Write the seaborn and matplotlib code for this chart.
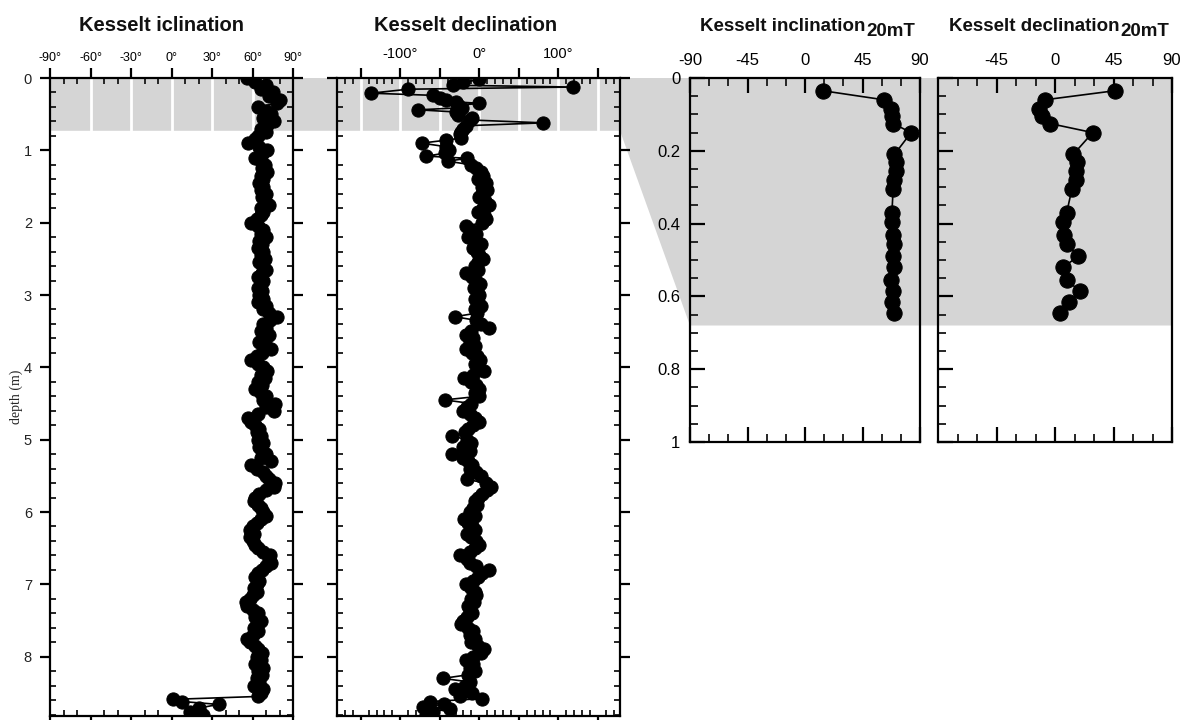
import numpy as np
import pandas as pd
import matplotlib
matplotlib.use("Agg")
import matplotlib.pyplot as plt
from matplotlib.patches import Polygon
from matplotlib.ticker import MultipleLocator, FixedLocator, FuncFormatter
import seaborn as sns

sns.set_theme(style="white")
plt.rcParams['font.family'] = ['Liberation Sans', 'DejaVu Sans']

# ---------------- data ----------------
# Full core, sampled every 5 cm from 0 to 8.55 m
inc_depth_grid = np.round(np.arange(0.0, 8.551, 0.05), 2)
inc_grid = [
    56, 62, 70, 66, 75, 72, 80, 78, 64, 70,
    74, 68, 76, 71, 66, 70, 64, 62, 57, 65,
    71, 67, 62, 66, 69, 67, 71, 66, 68, 65,
    68, 66, 70, 67, 69, 72, 66, 68, 66, 63,
    59, 64, 68, 66, 70, 65, 67, 64, 68, 66,
    69, 65, 68, 70, 67, 64, 68, 66, 64, 67,
    65, 68, 64, 70, 68, 72, 78, 73, 68, 70,
    66, 72, 68, 65, 70, 74, 67, 63, 59, 64,
    68, 71, 66, 69, 64, 67, 62, 66, 70, 68,
    77, 70, 76, 64, 57, 59, 62, 65, 63, 66,
    64, 68, 65, 67, 70, 66, 74, 59, 63, 68,
    70, 72, 77, 76, 70, 65, 62, 61, 64, 66,
    68, 70, 66, 63, 60, 58, 61, 58, 60, 62,
    64, 68, 73, 72, 74, 70, 67, 64, 62, 65,
    63, 61, 63, 60, 58, 55, 56, 60, 64, 62,
    66, 63, 61, 64, 60, 56, 58, 62, 64, 67,
    63, 66, 62, 68, 64, 67, 63, 65, 61, 68,
    66, 64,
]
inc_base_depth = [8.59, 8.62, 8.66, 8.71, 8.76, 8.80]
inc_base = [1, 8, 35, 20, 14, 23]

dec_top_depth = [0.02, 0.06, 0.10, 0.125, 0.155, 0.21, 0.24, 0.27, 0.30, 0.33,
                 0.35, 0.38, 0.41, 0.44, 0.47, 0.51, 0.55, 0.58, 0.62, 0.66,
                 0.70, 0.74, 0.78, 0.83, 0.86, 0.90, 0.95, 1.00, 1.04, 1.08,
                 1.11, 1.15, 1.20]
dec_top = [0, -20, -33, 119, -90, -137, -58, -50, -42, -30,
           0, -27, -22, -77, -29, -27, -9, -12, 81, -17,
           -20, -23, -25, -23, -42, -73, -42, -38, -44, -67,
           -15, -40, -10]
dec_depth_grid = np.round(np.arange(1.25, 8.551, 0.05), 2)
dec_grid = [
    -4, 2, 5, -2, 8, 3, 10, 4, 0, 7,
    12, 5, -1, 6, 9, 3, -17, -10, -4, -14,
    -6, 2, -8, -3, 0, 5, -2, -6, -1, -17,
    -9, -4, 1, -7, -3, 0, -5, -2, 2, -6,
    -3, -31, -4, 2, 12, -10, -17, -8, -12, -5,
    -17, -9, -3, 1, -6, -2, 6, -8, -19, -10,
    -4, 0, -6, 0, -44, -10, -15, -21, -12, -6,
    0, -8, -14, -18, -35, -15, -10, -20, -12, -35,
    -21, -14, -9, -12, -4, 2, -15, 8, 15, 10,
    4, -2, -6, -3, -8, -12, -6, -19, -14, -9,
    -5, -15, -10, -4, 0, -6, -12, -25, -16, -12,
    -4, 12, 4, -2, -8, -17, -10, -6, -4, -11,
    -7, -14, -12, -9, -16, -20, -23, -14, -8, -12,
    -5, -10, -2, 6, 2, -8, -17, -8, -12, -6,
    -14, -46, -12, -18, -31, -9, -25,
]
dec_base_depth = [8.58, 8.62, 8.66, 8.69, 8.72, 8.76, 8.81]
dec_base = [4, -62, -45, -71, -37, -58, -67]

# Top 0.65 m after 20 mT demagnetisation
top_depth = [0.035, 0.06, 0.085, 0.105, 0.125, 0.15, 0.21, 0.23, 0.255, 0.28, 0.305,
             0.37, 0.395, 0.43, 0.455, 0.49, 0.52, 0.555, 0.585, 0.615, 0.645]
inc_20mT = [14, 62, 67, 68, 69, 83, 70, 71, 71, 70, 69,
            68, 68, 69, 70, 69, 70, 67, 69, 68, 70]
dec_20mT = [46, -8, -12, -10, -4, 29, 14, 17, 16, 16, 13,
            9, 6, 7, 9, 18, 6, 9, 19, 11, 4]

band_core = 0.73   # shaded interval on the full-core logs
band_top = 0.68    # same interval on the expanded logs

inc_df = pd.DataFrame({"depth": list(inc_depth_grid) + inc_base_depth,
                       "value": inc_grid + inc_base})
dec_df = pd.DataFrame({"depth": dec_top_depth + list(dec_depth_grid) + dec_base_depth,
                       "value": dec_top + dec_grid + dec_base})
top_df = pd.DataFrame({"depth": top_depth, "inc": inc_20mT, "dec": dec_20mT})

# ---------------- layout ----------------
W, H = 1185, 720
fig = plt.figure(figsize=(W / 100, H / 100), dpi=100)


def box(l, r, t, b):
    return [l / W, 1 - b / H, (r - l) / W, (b - t) / H]


ax1 = fig.add_axes(box(50, 293, 78, 716))
ax2 = fig.add_axes(box(337, 620, 78, 716))
ax3 = fig.add_axes(box(690, 920, 78, 442))
ax4 = fig.add_axes(box(938, 1172, 78, 442))

GREY = "#d5d5d5"
LINE_KW = dict(sort=False, estimator=None, orient="y", color="black",
               linewidth=1.2, marker="o", markeredgecolor="black", zorder=3)

sns.lineplot(data=inc_df, x="value", y="depth", ax=ax1, markersize=9.5, **LINE_KW)
sns.lineplot(data=dec_df, x="value", y="depth", ax=ax2, markersize=9.5, **LINE_KW)
sns.lineplot(data=top_df, x="inc", y="depth", ax=ax3, markersize=11, **LINE_KW)
sns.lineplot(data=top_df, x="dec", y="depth", ax=ax4, markersize=11, **LINE_KW)

for ax in (ax1, ax2, ax3, ax4):
    ax.set_facecolor("none")
    ax.set_xlabel("")
    ax.set_ylabel("")
    for s in ax.spines.values():
        s.set_linewidth(1.6)
        s.set_color("black")

# full-core panels
ax1.set_xlim(-90, 90)
ax2.set_xlim(-180, 178)
for ax in (ax1, ax2):
    ax.set_ylim(8.82, 0)
    ax.yaxis.set_major_locator(MultipleLocator(1))
    ax.yaxis.set_minor_locator(MultipleLocator(0.2))
    ax.xaxis.set_minor_locator(MultipleLocator(10))
    ax.tick_params(axis="both", which="major", direction="out", length=7, width=1.6,
                   top=True, bottom=True, left=True, right=True,
                   labeltop=True, labelbottom=False, colors="black")
    ax.tick_params(axis="both", which="minor", direction="in", length=4, width=1.4,
                   top=True, bottom=True, left=True, right=True)

ax1.xaxis.set_major_locator(MultipleLocator(30))
ax1.xaxis.set_major_formatter(FuncFormatter(lambda v, p: f"{v:.0f}°"))
ax1.tick_params(axis="x", which="major", labelsize=9, pad=3)
for lab in ax1.get_xticklabels():
    lab.set_family(["Liberation Sans Narrow", "Liberation Sans", "DejaVu Sans"])
ax1.yaxis.set_major_formatter(FuncFormatter(lambda v, p: f"{v:.0f}"))
ax1.tick_params(axis="y", which="major", labelsize=10.5, labelcolor="#222222", pad=6)

ax2.xaxis.set_major_locator(MultipleLocator(50))
ax2.xaxis.set_major_formatter(
    FuncFormatter(lambda v, p: f"{v:.0f}°" if abs(v) % 100 == 0 and abs(v) <= 100 else ""))
ax2.tick_params(axis="x", which="major", labelsize=10.5, pad=5)
ax2.tick_params(axis="y", labelleft=False)

# white grid lines across the shaded interval
ax1.vlines([-60, -30, 0, 30, 60], 0, band_core, colors="white", linewidth=2, zorder=1)
ax2.vlines([-150, -100, -50, 0, 50, 100, 150], 0, band_core, colors="white",
           linewidth=2, zorder=1)

# expanded top panels
for ax in (ax3, ax4):
    ax.set_xlim(-90, 90)
    ax.set_ylim(1, 0)
    ax.xaxis.set_major_locator(FixedLocator([-90, -45, 0, 45, 90]))
    ax.xaxis.set_minor_locator(MultipleLocator(15))
    ax.yaxis.set_major_locator(MultipleLocator(0.2))
    ax.yaxis.set_minor_locator(MultipleLocator(0.05))
    ax.xaxis.set_major_formatter(FuncFormatter(lambda v, p: f"{v:.0f}"))
    ax.yaxis.set_major_formatter(FuncFormatter(lambda v, p: f"{v:g}"))
    ax.tick_params(axis="both", which="major", direction="in", length=11, width=1.6,
                   top=True, bottom=True, left=True, right=False,
                   labeltop=True, labelbottom=False, labelsize=12, pad=7,
                   colors="black")
    ax.tick_params(axis="both", which="minor", direction="in", length=6, width=1.4,
                   top=True, bottom=True, left=True, right=False)
ax4.xaxis.set_major_locator(FixedLocator([-45, 0, 45, 90]))
ax4.tick_params(axis="y", labelleft=False)
ax3.xaxis.set_major_locator(FixedLocator([-90, -45, 0, 45, 90]))

# shaded interval joining the full-core logs to the expanded logs
corners = [
    ax1.transData.transform((-90, 0)),
    ax4.transData.transform((90, 0)),
    ax4.transData.transform((90, band_top)),
    ax3.transData.transform((-90, band_top)),
    ax2.transData.transform((178, band_core)),
    ax1.transData.transform((-90, band_core)),
]
corners = fig.transFigure.inverted().transform(np.array(corners))
fig.add_artist(Polygon(corners, closed=True, facecolor=GREY, edgecolor="none",
                       transform=fig.transFigure, zorder=-1))

# titles
renderer = fig.canvas.get_renderer()


def title(x_px, text, sub=None, size=14.5):
    t = fig.text(x_px / W, 1 - 31 / H, text, ha="left", va="baseline",
                 fontsize=size, fontweight="bold", color="#111111")
    if sub:
        bb = t.get_window_extent(renderer)
        xs = fig.transFigure.inverted().transform((bb.x1 + 1, 0))[0]
        fig.text(xs, 1 - 36 / H, sub, ha="left", va="baseline",
                 fontsize=size, fontweight="bold", color="#111111")


title(79, "Kesselt iclination")
title(374, "Kesselt declination")
title(700, "Kesselt inclination", "20mT", size=13.5)
title(949, "Kesselt declination", "20mT", size=13.5)

fig.text(16 / W, 1 - 397 / H, "depth (m)", rotation=90, ha="center", va="center",
         fontsize=10, family=["Liberation Serif", "DejaVu Serif"])

fig.savefig("out.png", dpi=100)
